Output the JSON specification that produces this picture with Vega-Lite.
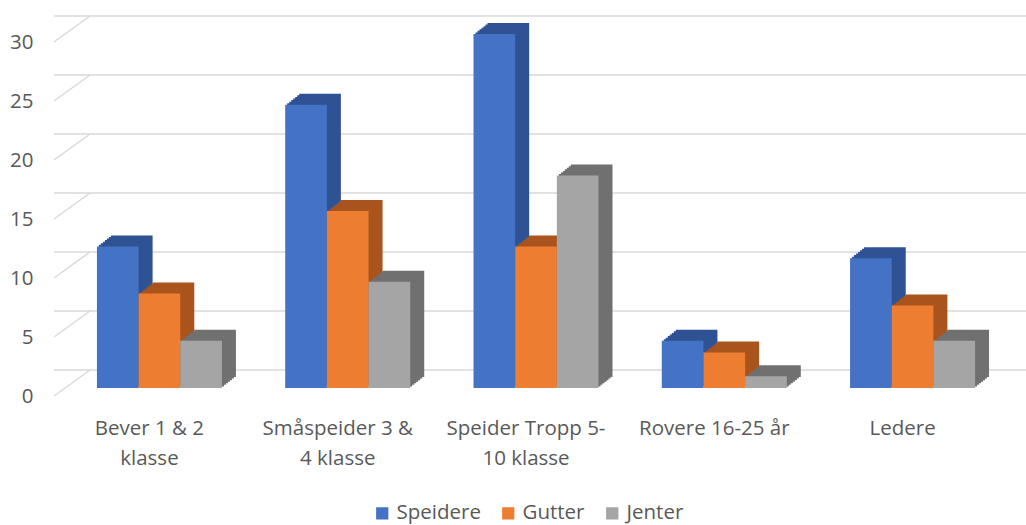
{
  "$schema": "https://vega.github.io/schema/vega-lite/v6.json",
  "width": 964,
  "height": 354,
  "autosize": {"type": "none"},
  "padding": {"left": 54, "top": 34, "right": 8, "bottom": 137},
  "config": {"view": {"stroke": null}, "font": "Open Sans"},
  "layer": [
    {
      "data": {"values": [{"g": 0}, {"g": 5}, {"g": 10}, {"g": 15}, {"g": 20}, {"g": 25}, {"g": 30}]},
      "layer": [
        {
          "mark": {"type": "rule", "color": "#D9D9D9", "strokeWidth": 1.5, "yOffset": -18, "xOffset": 36, "x2Offset": 2},
          "encoding": {"y": {"field": "g", "type": "quantitative", "scale": {"domain": [0, 30], "nice": false},
            "axis": {"title": null, "domain": false, "ticks": false, "grid": false, "values": [0, 5, 10, 15, 20, 25, 30], "labelPadding": 21, "labelOffset": 8.5, "labelFontSize": 20.5, "labelColor": "#595959"}}}
        },
        {
          "mark": {"type": "rule", "color": "#D9D9D9", "strokeWidth": 1.5, "yOffset": 8, "y2Offset": -18},
          "encoding": {
            "y": {"field": "g", "type": "quantitative", "scale": {"domain": [0, 30], "nice": false},
              "axis": {"title": null, "domain": false, "ticks": false, "grid": false, "values": [0, 5, 10, 15, 20, 25, 30], "labelPadding": 21, "labelOffset": 8.5, "labelFontSize": 20.5, "labelColor": "#595959"}},
            "y2": {"field": "g"},
            "x": {"value": 0},
            "x2": {"value": 36}
          }
        }
      ]
    },
    {
      "data": {
        "values": [
          {"gruppe": "Bever 1 & 2 klasse", "serie": "Speidere", "antall": 12},
          {"gruppe": "Bever 1 & 2 klasse", "serie": "Gutter", "antall": 8},
          {"gruppe": "Bever 1 & 2 klasse", "serie": "Jenter", "antall": 4},
          {"gruppe": "Småspeider 3 & 4 klasse", "serie": "Speidere", "antall": 24},
          {"gruppe": "Småspeider 3 & 4 klasse", "serie": "Gutter", "antall": 15},
          {"gruppe": "Småspeider 3 & 4 klasse", "serie": "Jenter", "antall": 9},
          {"gruppe": "Speider Tropp 5-10 klasse", "serie": "Speidere", "antall": 30},
          {"gruppe": "Speider Tropp 5-10 klasse", "serie": "Gutter", "antall": 12},
          {"gruppe": "Speider Tropp 5-10 klasse", "serie": "Jenter", "antall": 18},
          {"gruppe": "Rovere 16-25 år", "serie": "Speidere", "antall": 4},
          {"gruppe": "Rovere 16-25 år", "serie": "Gutter", "antall": 3},
          {"gruppe": "Rovere 16-25 år", "serie": "Jenter", "antall": 1},
          {"gruppe": "Ledere", "serie": "Speidere", "antall": 11},
          {"gruppe": "Ledere", "serie": "Gutter", "antall": 7},
          {"gruppe": "Ledere", "serie": "Jenter", "antall": 4}
        ]
      },
      "encoding": {
        "x": {
          "field": "gruppe", "type": "nominal",
          "sort": ["Bever 1 & 2 klasse", "Småspeider 3 & 4 klasse", "Speider Tropp 5-10 klasse", "Rovere 16-25 år", "Ledere"],
          "scale": {"paddingInner": 0.336, "paddingOuter": 0.228},
          "axis": {
            "title": null, "domain": false, "ticks": false, "labelAngle": 0, "labelOffset": -10, "labelPadding": 30,
            "labelFontSize": 20.5, "labelColor": "#595959", "labelLineHeight": 30, "labelLimit": 0,
            "labelExpr": "datum.value == 'Bever 1 & 2 klasse' ? ['Bever 1 & 2', 'klasse'] : datum.value == 'Småspeider 3 & 4 klasse' ? ['Småspeider 3 &', '4 klasse'] : datum.value == 'Speider Tropp 5-10 klasse' ? ['Speider Tropp 5-', '10 klasse'] : datum.label"
          }
        },
        "y": {
          "field": "antall", "type": "quantitative",
          "scale": {"domain": [0, 30], "nice": false},
          "axis": {"title": null, "domain": false, "ticks": false, "grid": false, "values": [0, 5, 10, 15, 20, 25, 30], "labelPadding": 21, "labelOffset": 8.5, "labelFontSize": 20.5, "labelColor": "#595959"}
        }
      },
      "layer": [
        {
          "transform": [{"filter": "datum.serie === 'Speidere'"}],
          "layer": [
            {"mark": {"type": "bar", "color": "#2F5294", "width": {"band": 0.33333}, "xOffset": -39.667, "yOffset": -1.57, "y2Offset": -1.57}},
            {"mark": {"type": "bar", "color": "#2F5294", "width": {"band": 0.33333}, "xOffset": -37.667, "yOffset": -3.14, "y2Offset": -3.14}},
            {"mark": {"type": "bar", "color": "#2F5294", "width": {"band": 0.33333}, "xOffset": -35.667, "yOffset": -4.71, "y2Offset": -4.71}},
            {"mark": {"type": "bar", "color": "#2F5294", "width": {"band": 0.33333}, "xOffset": -33.667, "yOffset": -6.29, "y2Offset": -6.29}},
            {"mark": {"type": "bar", "color": "#2F5294", "width": {"band": 0.33333}, "xOffset": -31.667, "yOffset": -7.86, "y2Offset": -7.86}},
            {"mark": {"type": "bar", "color": "#2F5294", "width": {"band": 0.33333}, "xOffset": -29.667, "yOffset": -9.43, "y2Offset": -9.43}},
            {"mark": {"type": "bar", "color": "#2F5294", "width": {"band": 0.33333}, "xOffset": -27.667, "yOffset": -11, "y2Offset": -11}}
          ]
        },
        {
          "transform": [{"filter": "datum.serie === 'Gutter'"}],
          "layer": [
            {"mark": {"type": "bar", "color": "#A9541D", "width": {"band": 0.33333}, "xOffset": 2, "yOffset": -1.57, "y2Offset": -1.57}},
            {"mark": {"type": "bar", "color": "#A9541D", "width": {"band": 0.33333}, "xOffset": 4, "yOffset": -3.14, "y2Offset": -3.14}},
            {"mark": {"type": "bar", "color": "#A9541D", "width": {"band": 0.33333}, "xOffset": 6, "yOffset": -4.71, "y2Offset": -4.71}},
            {"mark": {"type": "bar", "color": "#A9541D", "width": {"band": 0.33333}, "xOffset": 8, "yOffset": -6.29, "y2Offset": -6.29}},
            {"mark": {"type": "bar", "color": "#A9541D", "width": {"band": 0.33333}, "xOffset": 10, "yOffset": -7.86, "y2Offset": -7.86}},
            {"mark": {"type": "bar", "color": "#A9541D", "width": {"band": 0.33333}, "xOffset": 12, "yOffset": -9.43, "y2Offset": -9.43}},
            {"mark": {"type": "bar", "color": "#A9541D", "width": {"band": 0.33333}, "xOffset": 14, "yOffset": -11, "y2Offset": -11}}
          ]
        },
        {
          "transform": [{"filter": "datum.serie === 'Jenter'"}],
          "layer": [
            {"mark": {"type": "bar", "color": "#707070", "width": {"band": 0.33333}, "xOffset": 43.667, "yOffset": -1.57, "y2Offset": -1.57}},
            {"mark": {"type": "bar", "color": "#707070", "width": {"band": 0.33333}, "xOffset": 45.667, "yOffset": -3.14, "y2Offset": -3.14}},
            {"mark": {"type": "bar", "color": "#707070", "width": {"band": 0.33333}, "xOffset": 47.667, "yOffset": -4.71, "y2Offset": -4.71}},
            {"mark": {"type": "bar", "color": "#707070", "width": {"band": 0.33333}, "xOffset": 49.667, "yOffset": -6.29, "y2Offset": -6.29}},
            {"mark": {"type": "bar", "color": "#707070", "width": {"band": 0.33333}, "xOffset": 51.667, "yOffset": -7.86, "y2Offset": -7.86}},
            {"mark": {"type": "bar", "color": "#707070", "width": {"band": 0.33333}, "xOffset": 53.667, "yOffset": -9.43, "y2Offset": -9.43}},
            {"mark": {"type": "bar", "color": "#707070", "width": {"band": 0.33333}, "xOffset": 55.667, "yOffset": -11, "y2Offset": -11}}
          ]
        },
        {
          "mark": {"type": "bar"},
          "encoding": {
            "xOffset": {"field": "serie", "sort": ["Speidere", "Gutter", "Jenter"], "scale": {"paddingInner": 0, "paddingOuter": 0}},
            "color": {
              "field": "serie", "type": "nominal",
              "scale": {"domain": ["Speidere", "Gutter", "Jenter"], "range": ["#4472C4", "#ED7D31", "#A5A5A5"]},
              "legend": {
                "title": null, "orient": "none", "legendX": 318, "legendY": 469, "direction": "horizontal",
                "symbolType": "square", "symbolSize": 150, "symbolStrokeWidth": 0, "labelFontSize": 20.5,
                "labelColor": "#595959", "labelOffset": 4, "columnPadding": 17
              }
            }
          }
        }
      ]
    }
  ]
}
